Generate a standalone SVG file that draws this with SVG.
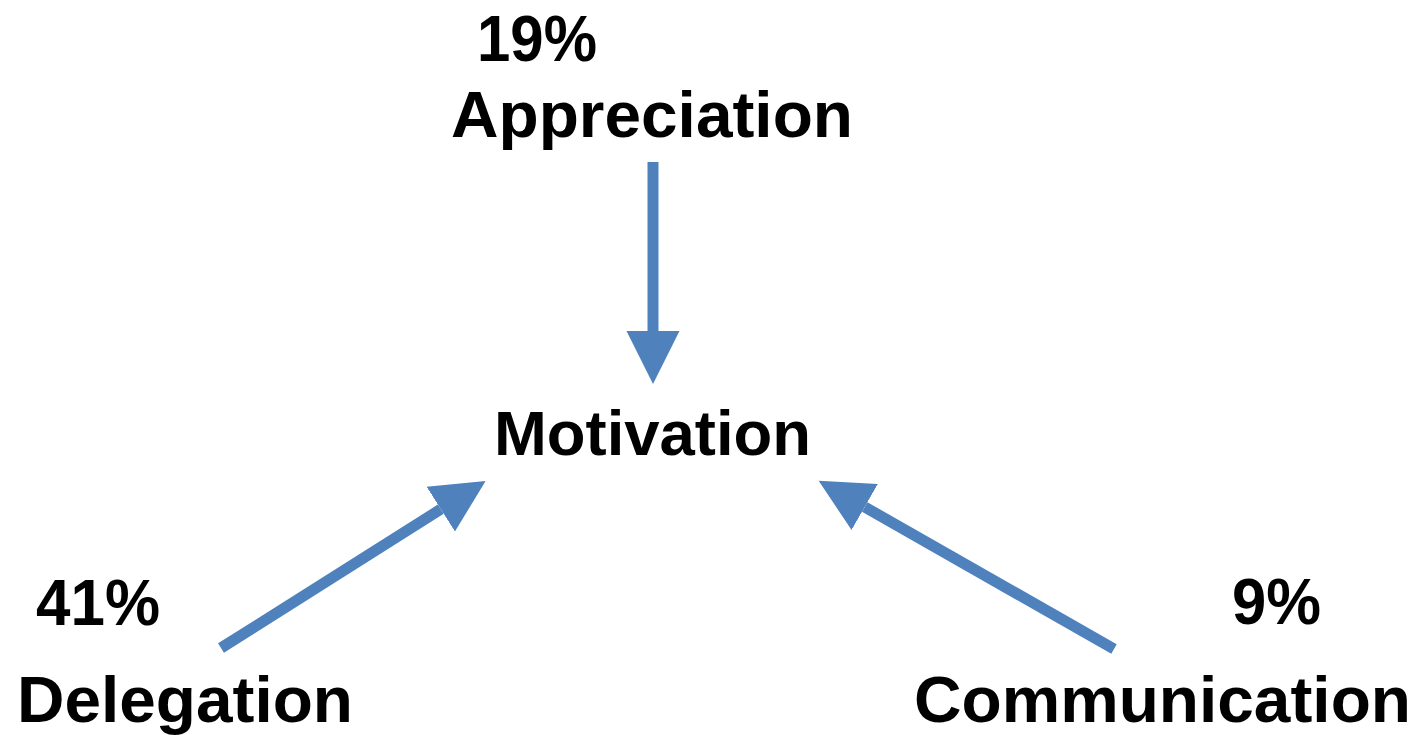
<svg xmlns="http://www.w3.org/2000/svg" width="1418" height="735" viewBox="0 0 1418 735">
<style>
.t{font-family:"Liberation Sans",Arial,sans-serif;font-weight:bold;fill:#000;}
.c{stroke:#4F81BD;stroke-width:11;fill:none;marker-end:url(#ah);}
</style>
<defs>
<marker id="ah" markerUnits="userSpaceOnUse" markerWidth="54" markerHeight="54" viewBox="0 -27 54 54" refX="0" refY="0" orient="auto">
<path d="M0,-26.5 L53,0 L0,26.5 Z" fill="#4F81BD"/>
</marker>
</defs>
<rect width="1418" height="735" fill="#fff"/>
<g id="connectors">
<line class="c" x1="653" y1="162" x2="653" y2="331"/>
<line class="c" x1="221" y1="648" x2="440.8" y2="509.2"/>
<line class="c" x1="1114" y1="649" x2="864.7" y2="507"/>
</g>
<g id="appreciation">
<text class="t" x="477" y="61" font-size="65" textLength="120" lengthAdjust="spacingAndGlyphs">19%</text>
<text class="t" x="451" y="137" font-size="65" textLength="402" lengthAdjust="spacingAndGlyphs">Appreciation</text>
</g>
<g id="motivation">
<text class="t" x="494" y="455" font-size="63" textLength="317" lengthAdjust="spacingAndGlyphs">Motivation</text>
</g>
<g id="delegation">
<text class="t" x="36" y="625" font-size="65" textLength="124" lengthAdjust="spacingAndGlyphs">41%</text>
<text class="t" x="17" y="722" font-size="65" textLength="336" lengthAdjust="spacingAndGlyphs">Delegation</text>
</g>
<g id="communication">
<text class="t" x="1232" y="624" font-size="65" textLength="89" lengthAdjust="spacingAndGlyphs">9%</text>
<text class="t" x="914" y="722" font-size="65" textLength="497" lengthAdjust="spacingAndGlyphs">Communication</text>
</g>
</svg>
